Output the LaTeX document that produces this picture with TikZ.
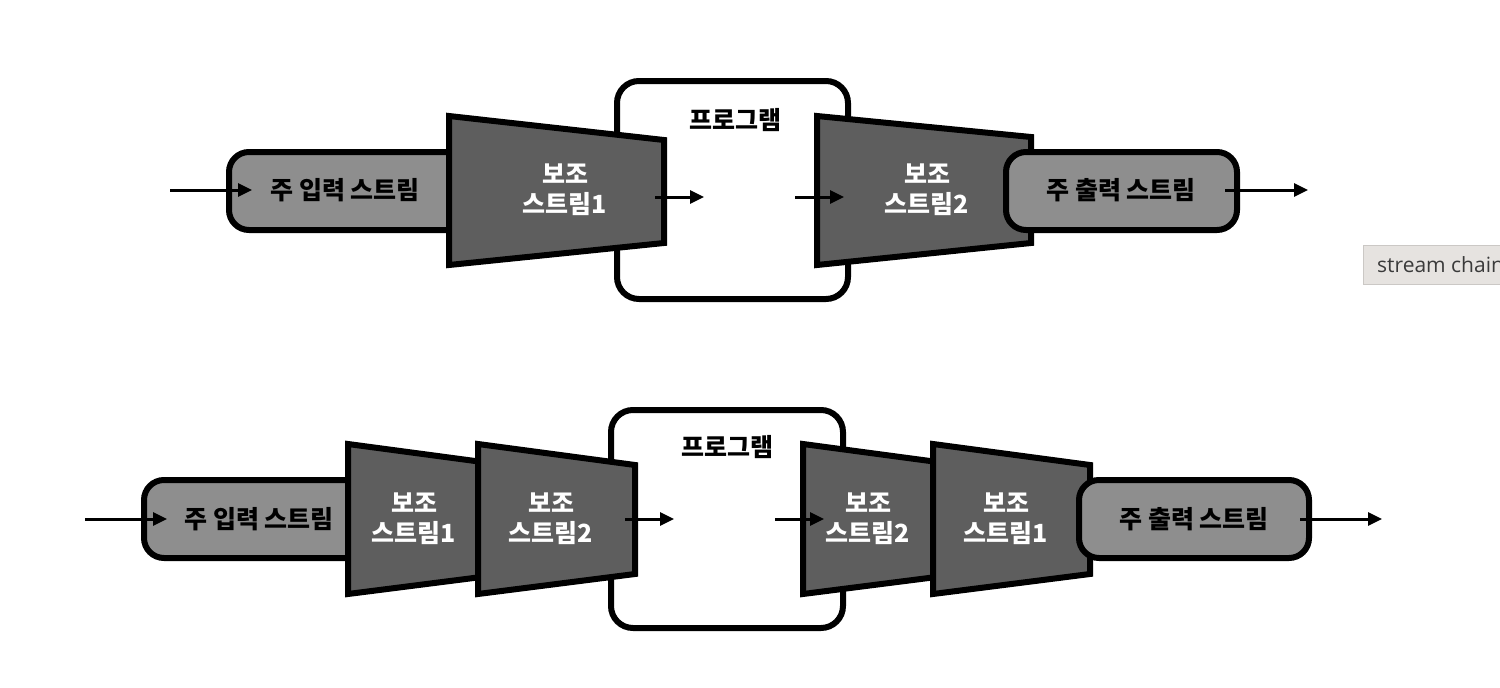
\documentclass[tikz,border=0pt]{standalone}
\usepackage{fontspec}
\setmainfont{Open Sans}
\newfontfamily\kr{Noto Sans CJK KR}[BoldFont={Noto Sans CJK KR Black}]
\usetikzlibrary{arrows.meta}
\definecolor{boxgray}{HTML}{8E8E8E}
\definecolor{trapgray}{HTML}{5E5E5E}
\definecolor{tipfill}{HTML}{E6E3E0}
\definecolor{tipdraw}{HTML}{CBC8C5}
\definecolor{tiptext}{HTML}{3A3A3A}
\tikzset{
  mainbox/.style={draw=black, line width=6pt, fill=boxgray, rounded corners=20pt},
  progbox/.style={draw=black, line width=6pt, fill=white, rounded corners=22pt},
  trapshape/.style={draw=black, line width=6pt, fill=trapgray, line join=miter},
  flow/.style={line width=3pt, -{Triangle[length=14pt,width=13pt]}},
  darklabel/.style={font=\kr\bfseries\fontsize{25}{30}\selectfont, text=black, align=center, inner sep=0pt},
  lightlabel/.style={font=\kr\bfseries\fontsize{25}{30}\selectfont, text=white, align=center, inner sep=0pt},
  tip/.style={fill=tipfill, draw=tipdraw, line width=1pt}
}
\begin{document}
\begin{tikzpicture}[x=1pt,y=-1pt]
\useasboundingbox (0,0) rectangle (1500,688);
\fill[white] (0,0) rectangle (1500,688);

% ---------- top row ----------
\draw[progbox] (617,81) rectangle (848,299);
\node[darklabel] (tprog) at (735,120) {프로그램};
\draw[mainbox] (229,152) rectangle (480,230);
\draw[trapshape] (449,116) -- (664,140) -- (664,243) -- (449,265) -- cycle;
\draw[trapshape] (817,116) -- (1031,137) -- (1031,243) -- (817,265) -- cycle;
\draw[mainbox] (1006,152) rectangle (1237,230);

\node[darklabel] (tin) at (345,190) {주 입력 스트림};
\node[lightlabel] (tsub1) at (565,190) {보조\\스트림1};
\node[lightlabel] (tsub2) at (927,190) {보조\\스트림2};
\node[darklabel] (tout) at (1121,190) {주 출력 스트림};

\coordinate (ta0) at (170,190);
\coordinate (ta1) at (252,190);
\coordinate (tb0) at (655,197);
\coordinate (tb1) at (704,197);
\coordinate (tc0) at (795,197);
\coordinate (tc1) at (844,197);
\coordinate (td0) at (1225,190);
\coordinate (td1) at (1308,190);
\draw[flow] (ta0) -- (ta1);
\draw[flow] (tb0) -- (tb1);
\draw[flow] (tc0) -- (tc1);
\draw[flow] (td0) -- (td1);

% ---------- bottom row ----------
\draw[progbox] (611,410) rectangle (843,628);
\node[darklabel] (bprog) at (727,447) {프로그램};
\draw[mainbox] (144,480) rectangle (380,558);
\draw[trapshape] (348,444) -- (505,465) -- (505,574) -- (348,594) -- cycle;
\draw[trapshape] (478,444) -- (635,465) -- (635,574) -- (478,594) -- cycle;
\draw[trapshape] (803,444) -- (960,465) -- (960,574) -- (803,594) -- cycle;
\draw[trapshape] (933,444) -- (1090,465) -- (1090,574) -- (933,594) -- cycle;
\draw[mainbox] (1079,480) rectangle (1309,558);

\node[darklabel] (bin) at (259,519) {주 입력 스트림};
\node[lightlabel] (bsa) at (414,519) {보조\\스트림1};
\node[lightlabel] (bsb) at (551,519) {보조\\스트림2};
\node[lightlabel] (bsc) at (868,519) {보조\\스트림2};
\node[lightlabel] (bsd) at (1006,519) {보조\\스트림1};
\node[darklabel] (bout) at (1194,519) {주 출력 스트림};

\coordinate (ba0) at (85,519);
\coordinate (ba1) at (167,519);
\coordinate (bb0) at (625,519);
\coordinate (bb1) at (674,519);
\coordinate (bc0) at (775,519);
\coordinate (bc1) at (824,519);
\coordinate (bd0) at (1300,519);
\coordinate (bd1) at (1382,519);
\draw[flow] (ba0) -- (ba1);
\draw[flow] (bb0) -- (bb1);
\draw[flow] (bc0) -- (bc1);
\draw[flow] (bd0) -- (bd1);

% ---------- tooltip ----------
\begin{scope}
\clip (0,0) rectangle (1500,688);
\draw[tip] (1363.5,245.5) rectangle (1520,284);
\node[anchor=west, inner sep=0pt, text=tiptext, font=\fontsize{21}{25}\selectfont] (tiptxt) at (1377,265) {stream chain};
\end{scope}
\end{tikzpicture}
\end{document}
